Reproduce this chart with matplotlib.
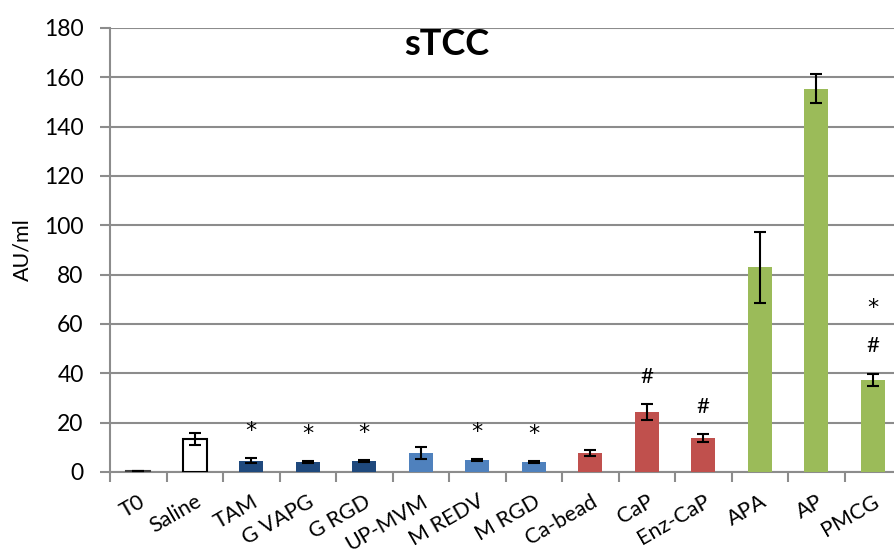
import matplotlib.pyplot as plt
import numpy as np

# sTCC-Werte je Gruppe (Mittelwert ± Fehler)
groups = ['T0', 'Saline', 'TAM', 'G VAPG', 'G RGD', 'UP-MVM', 'M REDV', 'M RGD',
          'Ca-bead', 'CaP', 'Enz-CaP', 'APA', 'AP', 'PMCG']
means = [0.5, 13.5, 4.5, 3.9, 4.5, 7.8, 4.8, 4.1, 7.6, 24.3, 13.8, 83.0, 155.3, 37.3]
errors = [0.0, 2.4, 1.0, 0.4, 0.5, 2.5, 0.5, 0.4, 1.3, 3.4, 1.7, 14.4, 5.9, 2.6]
# Signifikanz-Markierungen (von unten nach oben)
marks = ['', '', '*', '*', '*', '', '*', '*', '', '#', '#', '', '', '#*']

colors = (['white', 'white'] + ['#1F497D'] * 3 + ['#4F81BD'] * 3 +
          ['#C0504D'] * 3 + ['#9BBB59'] * 3)
edges = (['#404040', 'black'] + ['none'] * 12)

plt.rcParams['font.family'] = ['Lato', 'DejaVu Sans']

fig = plt.figure(figsize=(8.94, 5.49), dpi=100)
ax = fig.add_axes([110 / 894, 77 / 549, (901 - 110) / 894, 444 / 549])

x = np.arange(len(groups))
ax.bar(x, means, width=0.42, color=colors, edgecolor=edges, linewidth=1.5, zorder=3)
ax.errorbar(x, means, yerr=errors, fmt='none', ecolor='black', elinewidth=1.5,
            capsize=4.5, capthick=1.5, zorder=4)

for i, m in enumerate(marks):
    y = means[i] + errors[i] + 11
    for sym in m:
        fam = 'DejaVu Sans' if sym == '*' else 'Lato'
        ax.text(x[i], y, sym, ha='center', va='center', fontsize=16,
                family=fam, zorder=5)
        y += 15.5

ax.set_ylim(0, 180)
ax.set_yticks(np.arange(0, 181, 20))
ax.set_xlim(-0.5, 13.5)
ax.set_xticks(np.arange(-0.5, 14, 1))
ax.set_xticklabels([])
ax.set_xticks(x, minor=True)
ax.set_xticklabels(groups, minor=True, rotation=30, ha='right', va='top',
                   rotation_mode='anchor', fontsize=15.5)
ax.tick_params(axis='x', which='minor', length=0, pad=14)
ax.tick_params(axis='x', which='major', length=7, width=1.5, color='#8C8C8C')
ax.tick_params(axis='y', length=7, width=1.5, color='#8C8C8C', labelsize=16.5, pad=12)

ax.yaxis.grid(True, color='#8C8C8C', linewidth=1.5, zorder=0)
ax.set_axisbelow(True)
for side in ['top', 'right']:
    ax.spines[side].set_visible(False)
for side in ['left', 'bottom']:
    ax.spines[side].set_color('#8C8C8C')
    ax.spines[side].set_linewidth(1.5)

ax.set_ylabel('AU/ml', fontsize=15.5, labelpad=8)
ax.text(0.5, 0.9, 'sTCC', transform=fig.transFigure, ha='center', va='baseline',
        fontsize=26, fontweight='bold')

fig.savefig('out.png', dpi=100)
